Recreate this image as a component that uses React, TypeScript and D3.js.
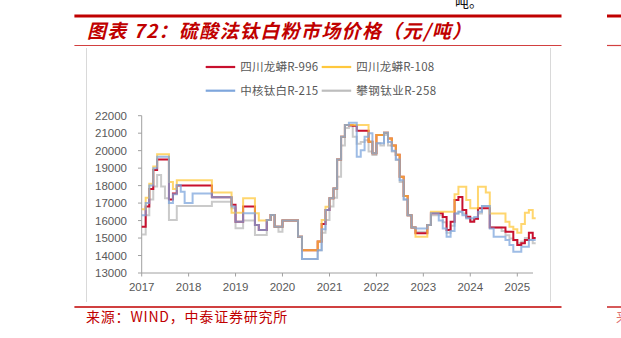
import React from "react";
import * as d3 from "d3";

const seriesNames = ["四川龙蟒R-996", "四川龙蟒R-108", "中核钛白R-215", "攀钢钛业R-258"];
const seriesColors = ["#C8102E", "#FFC83D", "#7EA6DC", "#BDBDBD"];

// monthly, Jan 2017 .. May 2025
const r996 = [
  15650, 16800, 17800, 18900, 19500, 19500, 19500, 17200, 17550, 18000, 18000, 18000,
  18000, 18000, 18000, 18000, 18000, 18000, 17330, 17330, 17330, 17330, 17330, 16900,
  15930, 15930, 16800, 16800, 16800, 15750, 15460, 15460, 16030, 16320, 15650, 15650,
  16000, 16000, 16000, 16000, 15080, 14300, 14300, 14300, 14300, 14800, 15800, 16600,
  17270, 17840, 19500, 20800, 21470, 21450, 21430, 21140, 21140, 21140, 20510, 19850,
  20890, 20890, 21030, 20700, 20300, 19760, 18500, 17400, 16300, 15600, 15270, 15270,
  15270, 15740, 16420, 16420, 16420, 16200, 15460, 15930, 17180, 17350, 16600, 16220,
  15930, 16100, 16700, 16700, 16700, 15610, 15610, 15610, 15610, 15360, 15360, 14890,
  14600, 14700, 14890, 15300, 15000,
];
const r108 = [
  16650, 17300, 18100, 19100, 19800, 19800, 19800, 18200, 17800, 18300, 18300, 18300,
  18300, 18300, 18300, 18300, 18300, 18300, 17600, 17600, 17600, 17600, 17600, 16450,
  16450, 16450, 17270, 17270, 17270, 16420, 16000, 16000, 16030, 16320, 15650, 15650,
  16000, 16000, 16000, 16000, 15080, 14300, 14300, 14300, 14300, 14800, 16030, 16790,
  17270, 17840, 19500, 20800, 21470, 21470, 21470, 21470, 21470, 21470, 20510, 19850,
  20890, 20890, 21030, 20700, 20300, 19760, 18500, 17400, 16300, 15600, 15080, 15080,
  15080, 15740, 16500, 16500, 16500, 16500, 16500, 16500, 17500, 17940, 17940, 17180,
  16700, 16700, 17940, 17940, 17600, 16400, 16400, 16400, 16400, 15930, 15650, 15500,
  15300, 15800, 16450, 16600, 16130,
];
const r215 = [
  16300, 17000, 18000, 19000, 19650, 19650, 19650, 17000, 17500, 18030, 17650, 17000,
  17000, 17550, 17550, 17550, 17550, 17550, 17330, 17330, 17330, 17330, 17330, 16800,
  15930, 15930, 16420, 16420, 16420, 15750, 15460, 15460, 16030, 16320, 15650, 15650,
  16000, 16000, 16000, 16000, 15080, 13800, 13800, 13800, 13800, 14300, 15500, 16600,
  17270, 17840, 19500, 20800, 21470, 21600, 21600, 19650, 20030, 20800, 21000, 19850,
  20420, 20420, 21030, 20500, 20000, 19500, 18300, 17200, 16300, 15600, 15550, 15550,
  15550, 15740, 16420, 16420, 16000, 15550, 15080, 15400, 16400, 16500, 16300, 16130,
  16130, 16200, 16500, 16830, 16830, 15550, 15080, 15080, 15080, 14890, 14600, 14220,
  14220, 14500, 14500, 14890, 14890,
];
const r258 = [
  15200, 16300, 17200, 17950, 18600, 17950, 17270, 16030, 16030, 16830, 16830, 16830,
  16830, 16830, 16830, 16830, 16830, 16830, 17080, 17080, 17080, 17080, 17080, 16700,
  15560, 15560, 16000, 16000, 16000, 15170, 15170, 15170, 16030, 16320, 15650, 15360,
  16000, 16000, 16000, 16000, 15080, 13800, 13800, 13800, 13800, 14300, 15300, 16030,
  16800, 17300, 18500, 20300, 21300, 21400, 20800, 20400, 20500, 20600, 19950, 19750,
  20420, 20300, 20900, 20300, 19950, 19470, 18200, 17200, 16300, 15600, 15360, 15360,
  15360, 15740, 16300, 16300, 16300, 15900, 15300, 15700, 16400, 16500, 16400, 16130,
  16000, 16100, 16400, 16830, 16830, 15610, 15610, 15610, 15400, 15160, 14980, 14880,
  14700, 14800, 15000, 14900, 14700,
];
const seriesValues = [r996, r108, r215, r258];
const yTicks = [13000, 14000, 15000, 16000, 17000, 18000, 19000, 20000, 21000, 22000];
const xTickYears = [2017, 2018, 2019, 2020, 2021, 2022, 2023, 2024, 2025];

const months = d3.timeMonth.range(new Date(2017, 0, 1), new Date(2025, 5, 1));
const endDate = new Date(2025, 4, 24);

const FONT = "'Liberation Sans', Arial, sans-serif";
const CJK = "'Noto Sans CJK SC', sans-serif";

export default function App() {
  const x = d3
    .scaleTime()
    .domain([new Date(2017, 0, 1), new Date(2025, 0, 1)])
    .range([141.7, 517.3]);
  const y = d3.scaleLinear().domain([13000, 22000]).range([273, 115.7]);
  const axisRight = 533;

  const line = d3
    .line<[Date, number]>()
    .x((d) => x(d[0]))
    .y((d) => y(d[1]))
    .curve(d3.curveStepAfter);

  const paths = seriesValues.map((vals) => {
    const pts: [Date, number][] = months.map((m, i) => [m, vals[i]]);
    pts.push([endDate, vals[vals.length - 1]]);
    return line(pts) as string;
  });

  const drawOrder = [3, 0, 1, 2];
  const opac = [1, 0.75, 0.75, 0.8];

  const legendItems = [
    { i: 0, lx: 205.7, ly: 67 },
    { i: 1, lx: 321.7, ly: 67 },
    { i: 2, lx: 205.7, ly: 90.7 },
    { i: 3, lx: 321.7, ly: 90.7 },
  ];

  return (
    <svg
      width={621}
      height={338}
      style={{ position: "absolute", left: 0, top: 0, background: "#fff" }}
    >
      <rect x={0} y={0} width={621} height={338} fill="#fff" />
      {/* top cut text */}
      <text x={455} y={7} fontFamily={CJK} fontSize={14} fill="#111">
        吨。
      </text>
      {/* header lines */}
      <line x1={74.4} x2={561.5} y1={16} y2={16} stroke="#C00000" strokeWidth={3} />
      <line x1={607} x2={621} y1={16} y2={16} stroke="#C00000" strokeWidth={3} />
      <text
        x={87}
        y={38}
        fontFamily={CJK}
        fontSize={19}
        fontWeight="bold"
        fontStyle="italic"
        fill="#C00000"
        textLength={384}
        lengthAdjust="spacing"
      >
        图表 72：硫酸法钛白粉市场价格（元/吨）
      </text>
      <line x1={74.4} x2={561.5} y1={45.5} y2={45.5} stroke="#D24040" strokeWidth={1.2} />
      <line x1={607} x2={621} y1={45.5} y2={45.5} stroke="#D24040" strokeWidth={1.2} />
      {/* frame verticals */}
      <line x1={86.5} x2={86.5} y1={48} y2={302} stroke="#D9D9D9" strokeWidth={1} />
      <line x1={550.5} x2={550.5} y1={48} y2={302} stroke="#D9D9D9" strokeWidth={1} />

      {/* legend */}
      {legendItems.map((it) => (
        <g key={it.i}>
          <line
            x1={it.lx}
            x2={it.lx + 29.5}
            y1={it.ly}
            y2={it.ly}
            stroke={seriesColors[it.i]}
            strokeWidth={2.2}
          />
          <text
            x={it.lx + 34.5}
            y={it.ly + 4}
            fontFamily={CJK}
            fontSize={11.5}
            fill="#595959"
            textLength={it.i === 3 ? 80 : 78}
            lengthAdjust="spacing"
          >
            {seriesNames[it.i]}
          </text>
        </g>
      ))}

      {/* axes */}
      <line x1={141.7} x2={141.7} y1={115.7} y2={273} stroke="#A0A0A0" strokeWidth={1} />
      <line x1={141.7} x2={axisRight} y1={273} y2={273} stroke="#A0A0A0" strokeWidth={1} />
      {yTicks.map((t) => (
        <g key={t}>
          <line x1={138} x2={141.7} y1={y(t)} y2={y(t)} stroke="#A0A0A0" />
          <text
            x={127}
            y={y(t) + 4}
            textAnchor="end"
            fontFamily={FONT}
            fontSize={11.5}
            fill="#595959"
          >
            {t}
          </text>
        </g>
      ))}
      {xTickYears.map((yr) => {
        const px = x(new Date(yr, 0, 1));
        return (
          <g key={yr}>
            <line x1={px} x2={px} y1={273} y2={276.5} stroke="#A0A0A0" />
            <text
              x={px}
              y={291}
              textAnchor="middle"
              fontFamily={FONT}
              fontSize={11.5}
              fill="#595959"
            >
              {yr}
            </text>
          </g>
        );
      })}

      {/* series */}
      {drawOrder.map((i) => (
        <path
          key={i}
          d={paths[i]}
          fill="none"
          stroke={seriesColors[i]}
          strokeWidth={2}
          strokeOpacity={opac[i]}
          strokeLinejoin="miter"
        />
      ))}

      {/* footer */}
      <line x1={74.4} x2={561.5} y1={307} y2={307} stroke="#C00000" strokeWidth={1.3} />
      <line x1={607} x2={621} y1={307} y2={307} stroke="#C00000" strokeWidth={1.3} />
      <text x={86} y={322} fontFamily={CJK} fontSize={14} fill="#C00000" letterSpacing={0.8}>
        来源：WIND，中泰证券研究所
      </text>
      <text x={616} y={322} fontFamily={CJK} fontSize={13.5} fill="#E07070">
        来
      </text>
    </svg>
  );
}
